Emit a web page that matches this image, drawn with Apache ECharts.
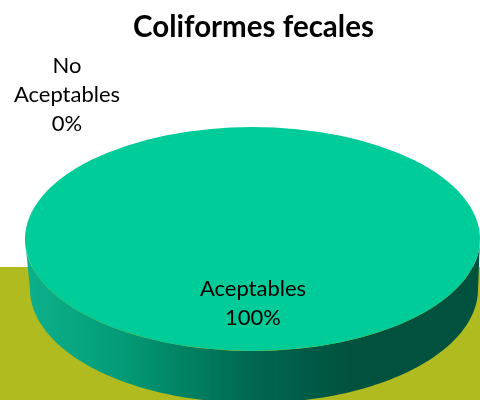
<!DOCTYPE html>
<html><head><meta charset="utf-8">
<style>html,body{margin:0;padding:0;background:#fff}#c{width:480px;height:400px}</style>
<script src="https://cdn.jsdelivr.net/npm/echarts@6/dist/echarts.min.js"></script>
</head><body><div id="c"></div>
<script>
const titleText = 'Coliformes fecales';
const categories = ['Aceptables', 'No Aceptables'];
const values = [100, 0];

const TOP = {cx: 252.5, cy: 239, rx: 227.5, ry: 112};
const BOTTOM = {cx: 254, cy: 289, rx: 224, ry: 114};
const LABELS = [{x: 253, y: 303}, {x: 67, y: 95}];
const total = values.reduce((a, b) => a + b, 0);

function lowerArc(e, reverse) {
  const pts = [];
  for (let i = 0; i <= 120; i++) {
    const t = Math.PI * i / 120;
    pts.push([e.cx + e.rx * Math.cos(t), e.cy + e.ry * Math.sin(t)]);
  }
  return reverse ? pts.reverse() : pts;
}

function renderItem(params, api) {
  const i = params.dataIndex;
  const v = api.value(0);
  let before = 0;
  for (let k = 0; k < i; k++) before += values[k];
  const a0 = -Math.PI / 2 + 2 * Math.PI * before / total;
  const a1 = a0 + 2 * Math.PI * v / total;
  const children = [];
  if (v > 0) {
    children.push({
      type: 'polygon',
      shape: {points: lowerArc(TOP).concat(lowerArc(BOTTOM, true))},
      style: {fill: {type: 'linear', x: 28, y: 0, x2: 480, y2: 0, global: true, colorStops: [
        {offset: 0, color: '#0CB08A'},
        {offset: 0.2, color: '#049C78'},
        {offset: 0.38, color: '#007C5E'},
        {offset: 0.5, color: '#00674E'},
        {offset: 0.72, color: '#00513E'},
        {offset: 1, color: '#00513E'}
      ]}}
    });
    children.push({
      type: 'group', x: TOP.cx, y: TOP.cy, scaleY: TOP.ry / TOP.rx,
      children: [{
        type: 'sector',
        shape: {cx: 0, cy: 0, r0: 0, r: TOP.rx, startAngle: a0, endAngle: a1, clockwise: true},
        style: {fill: '#00CC99'}
      }]
    });
  }
  const pct = Math.round(v / total * 100) + '%';
  children.push({
    type: 'text', x: LABELS[i].x, y: LABELS[i].y, z2: 10,
    style: {
      text: categories[i].replace(' ', '\n') + '\n' + pct,
      font: '22px Lato, "Open Sans", sans-serif',
      fill: '#000', align: 'center', verticalAlign: 'middle', lineHeight: 29
    }
  });
  return {type: 'group', children};
}

const chart = echarts.init(document.getElementById('c'), null, {renderer: 'canvas'});
chart.setOption({
  animation: false,
  backgroundColor: '#fff',
  title: {text: titleText, left: 133, top: 12, padding: 0,
    textStyle: {fontFamily: 'Lato', fontWeight: 'bold', fontSize: 29.5, color: '#000'}},
  graphic: [{type: 'rect', z: -1, shape: {x: 0, y: 267, width: 480, height: 133}, style: {fill: '#AFBB1E'}}],
  series: [{
    type: 'custom', coordinateSystem: 'none', silent: true, clip: false,
    renderItem, data: values.map(v => [v])
  }]
});
</script></body></html>
